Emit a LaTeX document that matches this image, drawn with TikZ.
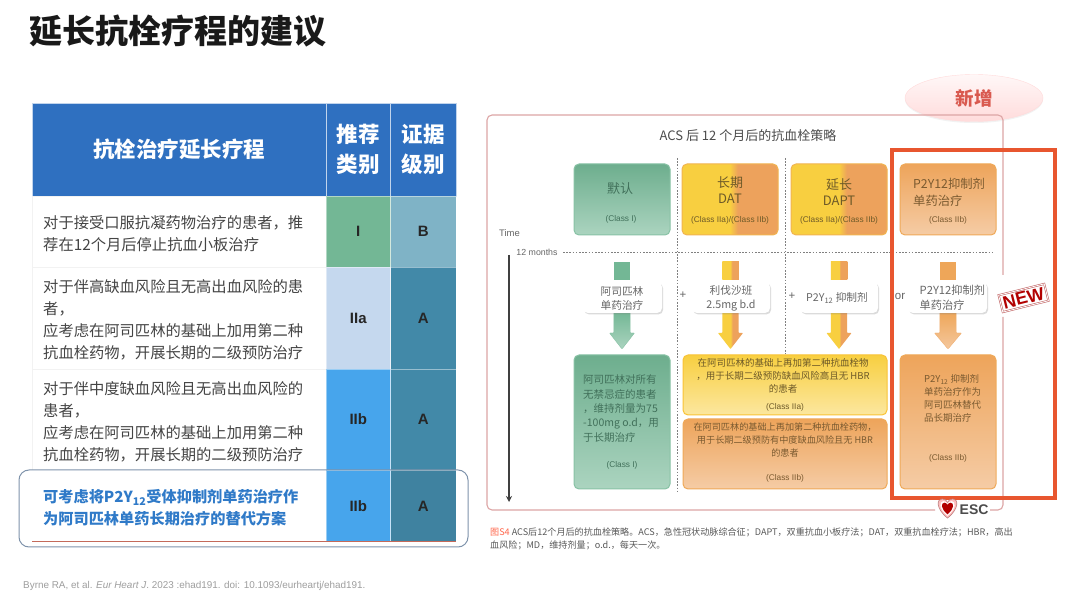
\documentclass[tikz,border=0pt]{standalone}
\usepackage{fontspec}
\setmainfont{Noto Sans CJK SC}
\newfontfamily\latinf{Liberation Sans}
\usetikzlibrary{shapes.geometric,shadows,arrows.meta}
\newcommand{\fs}[2]{\fontsize{#1}{#2}\selectfont}
\definecolor{hdr}{HTML}{2F70C0}
\definecolor{bodytx}{HTML}{444444}
\definecolor{bluetx}{HTML}{2F7AC8}
\definecolor{cI}{HTML}{73B795}
\definecolor{cB}{HTML}{7FB3C6}
\definecolor{cIIa}{HTML}{C5D8EE}
\definecolor{cA}{HTML}{4289A8}
\definecolor{cIIb}{HTML}{47A5EC}
\definecolor{frameC}{HTML}{DDA5A5}
\definecolor{redbox}{HTML}{E8562F}
\definecolor{ylw}{HTML}{F8CF40}
\definecolor{org}{HTML}{EDA25C}
\definecolor{grntx}{HTML}{41705A}
\definecolor{yltx}{HTML}{6E5A28}
\definecolor{ortx}{HTML}{7A5A30}
\definecolor{hlline}{HTML}{7F93AB}
\definecolor{tableline}{HTML}{C46A5A}
\definecolor{xzred}{HTML}{D9594F}
\pgfdeclarehorizontalshading{splitYO}{100bp}{color(0bp)=(ylw); color(50bp)=(ylw); color(54bp)=(org); color(100bp)=(org)}
\tikzset{
  cell/.style={inner sep=0pt,outer sep=0pt,draw=white,draw opacity=.45,line width=.5pt,text=black!85,font=\latinf\fs{15}{16}\bfseries},
  hcell/.style={inner sep=0pt,outer sep=0pt,fill=hdr,draw=white!70!hdr,line width=.6pt,text=white,align=center,font=\fs{21.5}{30}\bfseries},
  rowtx/.style={anchor=west,inner sep=0pt,align=left,text=bodytx,font=\fs{15.3}{22}},
  rowbg/.style={inner sep=0pt,outer sep=0pt,fill=white,draw=black!5,line width=.5pt},
  tbox/.style={rounded corners=5pt,inner sep=0pt,line width=1pt,minimum height=71pt,minimum width=96pt},
  grnbox/.style={top color=cI!95!black,bottom color=cI!60!white,draw=cI!85!white},
  splitbox/.style={shading=splitYO,draw=ylw!40!org},
  orgbox/.style={top color=org!95!ylw,bottom color=org!55!white,draw=org!85!ylw},
  whbox/.style={rounded corners=5pt,inner sep=0pt,fill=white,minimum height=31pt,drop shadow={shadow xshift=1.2pt,shadow yshift=-1.5pt,opacity=.28}},
  boxtx/.style={inner sep=0pt,align=center,font=\fs{13}{16}},
  classtx/.style={inner sep=0pt,font=\latinf\fs{8.3}{10}},
  smalltx/.style={inner sep=0pt,align=center,font=\fs{10.7}{14},text=black!60},
  longtx/.style={inner sep=0pt,align=center,font=\fs{9.5}{13}},
  sq/.style={inner sep=0pt,minimum width=16.5pt,minimum height=18pt},
  plus/.style={inner sep=0pt,text=black!60,font=\latinf\fs{11.5}{12}},
  gridline/.style={black!50,line width=.8pt,dash pattern=on 1.6pt off 1.6pt}
}
% block arrow: #1 centre x, #2 half head width, #3 style
\newcommand{\blockarrow}[3]{%
  \path[#3,rounded corners=.6pt] (#1-8.2,312)--(#1+8.2,312)--(#1+8.2,333)--(#1+#2,333)--(#1,349)--(#1-#2,333)--(#1-8.2,333)--cycle;}
\newcommand{\heartshape}{(0,8) .. controls (-10,0) and (-9,-8) .. (-4.5,-8) .. controls (-2,-8) and (-.5,-6.5) .. (0,-5) .. controls (.5,-6.5) and (2,-8) .. (4.5,-8) .. controls (9,-8) and (10,0) .. (0,8) -- cycle}
\begin{document}
\begin{tikzpicture}[x=1pt,y=-1pt]
\useasboundingbox[fill=white] (0,0) rectangle (1080,609);
% title
\node[anchor=west,inner sep=0pt,font=\fs{33}{36}\bfseries,text=black!90] (title) at (29,31) {延长抗栓疗程的建议};
% table
\node[hcell,minimum width=294pt,minimum height=93pt] (h1) at (179,149.5) {抗栓治疗延长疗程};
\node[hcell,minimum width=64.5pt,minimum height=93pt] (h2) at (358.25,149.5) {推荐\\类别};
\node[hcell,minimum width=65.5pt,minimum height=93pt] (h3) at (423.25,149.5) {证据\\级别};
\node[rowbg,minimum width=294pt,minimum height=71pt] (r1) at (179,231.5) {};
\node[rowbg,minimum width=294pt,minimum height=102pt] (r2) at (179,318) {};
\node[rowbg,minimum width=294pt,minimum height=101pt] (r3) at (179,419.5) {};
\node[rowbg,draw=none,minimum width=294pt,minimum height=72pt] (r4) at (179,506) {};
\node[rowtx] (t1) at (43,234) {对于接受口服抗凝药物治疗的患者，推\\荐在12个月后停止抗血小板治疗};
\node[rowtx] (t2) at (43,320) {对于伴高缺血风险且无高出血风险的患\\者，\\应考虑在阿司匹林的基础上加用第二种\\抗血栓药物，开展长期的二级预防治疗};
\node[rowtx] (t3) at (43,421.5) {对于伴中度缺血风险且无高出血风险的\\患者，\\应考虑在阿司匹林的基础上加用第二种\\抗血栓药物，开展长期的二级预防治疗};
\node[rowtx,text=bluetx,font=\fs{15.2}{22}\bfseries] (t4) at (43,508) {可考虑将P2Y\textsubscript{12}受体抑制剂单药治疗作\\为阿司匹林单药长期治疗的替代方案};
\node[cell,fill=cI,minimum width=64.5pt,minimum height=71pt] (c11) at (358.25,231.5) {I};
\node[cell,fill=cB,minimum width=65.5pt,minimum height=71pt] (c12) at (423.25,231.5) {B};
\node[cell,fill=cIIa,minimum width=64.5pt,minimum height=102pt] (c21) at (358.25,318) {IIa};
\node[cell,fill=cA,minimum width=65.5pt,minimum height=102pt] (c22) at (423.25,318) {A};
\node[cell,fill=cIIb,minimum width=64.5pt,minimum height=101pt] (c31) at (358.25,419.5) {IIb};
\node[cell,fill=cA,minimum width=65.5pt,minimum height=101pt] (c32) at (423.25,419.5) {A};
\node[cell,fill=cIIb,minimum width=64.5pt,minimum height=72pt] (c41) at (358.25,506) {IIb};
\node[cell,fill=cA!95!black,minimum width=65.5pt,minimum height=72pt] (c42) at (423.25,506) {A};
\draw[line width=1pt,draw=tableline] (r4.south west) -- (c42.south east);
\node[draw=hlline,line width=1pt,rounded corners=10pt,inner sep=0pt,minimum width=449pt,minimum height=77pt] (hl) at (243.5,508.5) {};
% citation
\node[anchor=west,inner sep=0pt,text=black!38,font=\latinf\fs{9.9}{12}] (cite) at (23,586) {Byrne RA, et al. \textit{Eur Heart J}. 2023 :ehad191. doi: 10.1093/eurheartj/ehad191.};
% new-tag ellipse
\node[ellipse,minimum width=138pt,minimum height=47pt,inner sep=0pt,top color=red!3!white,bottom color=red!14!white,draw=red!14!white,drop shadow={shadow xshift=0pt,shadow yshift=-1.5pt,opacity=.1},text=xzred,font=\fs{18.5}{20}\bfseries] (xz) at (974,98) {新增};
% frame
\draw[frameC,line width=1.1pt,rounded corners=5pt] (990,510) -- (1003,510) -- (1003,317);
\draw[frameC,line width=1.1pt,rounded corners=5pt] (1003,275) -- (1003,115) -- (487,115) -- (487,510) -- (935,510);
\node[inner sep=0pt,text=black!70,font=\fs{13}{16}] (rt) at (748,136) {ACS 后 12 个月后的抗血栓策略};
% grid lines
\coordinate (v1a) at (677,158); \coordinate (v1b) at (677,493);
\coordinate (v2a) at (785,158); \coordinate (v2b) at (785,354);
\coordinate (hla) at (563,252); \coordinate (hlb) at (993,252);
\draw[gridline] (v1a) -- (v1b);
\draw[gridline] (v2a) -- (v2b);
\draw[gridline] (hla) -- (hlb);
% time axis
\node[inner sep=0pt,text=black!60,font=\latinf\fs{9.5}{10}] (time) at (509.5,233.5) {Time};
\node[inner sep=0pt,text=black!60,font=\latinf\fs{8.8}{10}] (m12) at (537,252) {12 months};
\coordinate (ta) at (509,255); \coordinate (tb) at (509,502);
\draw[black!75,line width=1.1pt,-{Stealth[length=6pt,width=6pt]}] (ta) -- (tb);
% top boxes
\node[tbox,grnbox] (b1) at (622,199.5) {};
\node[tbox,splitbox] (b2) at (730,199.5) {};
\node[tbox,splitbox] (b3) at (839,199.5) {};
\node[tbox,orgbox] (b4) at (948,199.5) {};
\node[boxtx,text=grntx] (b1t) at (620,189) {默认};
\node[classtx,text=grntx] (b1c) at (621,219.5) {(Class I)};
\node[boxtx,text=yltx] (b2t) at (730,190) {长期\\DAT};
\node[classtx,text=yltx] (b2c) at (730,220) {(Class IIa)/(Class IIb)};
\node[boxtx,text=yltx] (b3t) at (839,192) {延长\\DAPT};
\node[classtx,text=yltx] (b3c) at (839,220) {(Class IIa)/(Class IIb)};
\node[boxtx,anchor=west,align=left,text=ortx,font=\fs{12.3}{17}] (b4t) at (913,192.5) {P2Y12抑制剂\\单药治疗};
\node[classtx,text=ortx] (b4c) at (948,220) {(Class IIb)};
% block arrows and squares
\node[sq,fill=cI] (s1) at (622,271) {};
\node[sq,shading=splitYO] (s2) at (730.5,271) {};
\node[sq,shading=splitYO] (s3) at (839,271) {};
\node[sq,fill=org!90!ylw] (s4) at (948,271) {};
\blockarrow{622}{12.5}{top color=cI,bottom color=cI!60!white,draw=cI!85!white}
\blockarrow{730.5}{12.5}{shading=splitYO}
\blockarrow{839}{12.5}{shading=splitYO}
\blockarrow{948}{13.5}{top color=org!90!ylw,bottom color=org!60!white,draw=org!85!white}
% white boxes
\node[whbox,minimum width=79pt] (w1) at (622.5,297.5) {};
\node[whbox,minimum width=78pt] (w2) at (731,297.5) {};
\node[whbox,minimum width=78pt] (w3) at (839,297.5) {};
\node[whbox,minimum width=79pt] (w4) at (947.5,297.5) {};
\node[smalltx] (w1t) at (622,298) {阿司匹林\\单药治疗};
\node[smalltx] (w2t) at (731,298) {利伐沙班\\2.5mg b.d};
\node[smalltx] (w3t) at (837,298) {P2Y\textsubscript{12} 抑制剂};
\node[smalltx,anchor=west,align=left,font=\fs{11.2}{14.5}] (w4t) at (919.5,297.5) {P2Y12抑制剂\\单药治疗};
\node[plus] (p1) at (683,295) {+};
\node[plus] (p2) at (792,296) {+};
\node[plus] (p3) at (900,296) {or};
% bottom boxes
\node[tbox,grnbox,minimum height=134pt] (g) at (622,422) {};
\node[tbox,top color=ylw,bottom color=ylw!50!white,draw=ylw!85!orange,minimum width=204pt,minimum height=60pt] (y) at (785,385) {};
\node[tbox,orgbox,minimum width=204pt,minimum height=70pt] (o) at (785,454) {};
\node[tbox,orgbox,minimum height=134pt] (r) at (948,422) {};
\node[inner sep=0pt,anchor=west,align=left,text=grntx,font=\fs{10.5}{14.3}] (gt) at (583,408.5) {阿司匹林对所有\\无禁忌症的患者\\，维持剂量为75\\-100mg o.d，用\\于长期治疗};
\node[classtx,text=grntx] (gc) at (622,465) {(Class I)};
\node[longtx,text=yltx] (yt) at (783,376) {在阿司匹林的基础上再加第二种抗血栓物\\，用于长期二级预防缺血风险高且无 HBR\\的患者};
\node[classtx,text=yltx] (yc) at (785,407) {(Class IIa)};
\node[longtx,text=ortx,font=\fs{9.15}{13}] (ot) at (785,440) {在阿司匹林的基础上再加第二种抗血栓药物，\\用于长期二级预防有中度缺血风险且无 HBR\\的患者};
\node[classtx,text=ortx] (oc) at (785,478) {(Class IIb)};
\node[longtx,anchor=west,align=left,text=ortx] (rt2) at (924,398.5) {P2Y\textsubscript{12} 抑制剂\\单药治疗作为\\阿司匹林替代\\品长期治疗};
\node[classtx,text=ortx] (rc) at (948,458) {(Class IIb)};
% red highlight box
\node[draw=redbox,line width=3.5pt,inner sep=0pt,minimum width=163pt,minimum height=348pt] (rb) at (973.5,324) {};
% NEW stamp
\node[rotate=14,fill=white,draw=red!60!black!60!white,double=white,double distance=.8pt,line width=.6pt,inner xsep=2.5pt,inner ysep=2.5pt,text=red!70!black,font=\latinf\fs{18}{18}\bfseries] (nw) at (1023.5,298) {NEW};
% ESC logo
\begin{scope}[shift={(947.5,508.5)}]
\fill[red!25!white,draw=red!50!black!50!white,line width=.6pt,scale=1.2] \heartshape;
\fill[white,scale=.92] \heartshape;
\fill[red!70!black,scale=.72] \heartshape;
\end{scope}
\node[anchor=west,inner sep=0pt,text=black!70,font=\latinf\fs{14}{16}\bfseries] (esc) at (959.5,510) {ESC};
% caption
\node[anchor=west,inner sep=0pt,align=left,text=black!65,font=\fs{9.1}{13}] (cap) at (490,538.5) {\textcolor{red!70!orange!70!white}{图S4} ACS后12个月后的抗血栓策略。ACS，急性冠状动脉综合征；DAPT，双重抗血小板疗法；DAT，双重抗血栓疗法；HBR，高出\\血风险；MD，维持剂量；o.d.，每天一次。};
\end{tikzpicture}
\end{document}
